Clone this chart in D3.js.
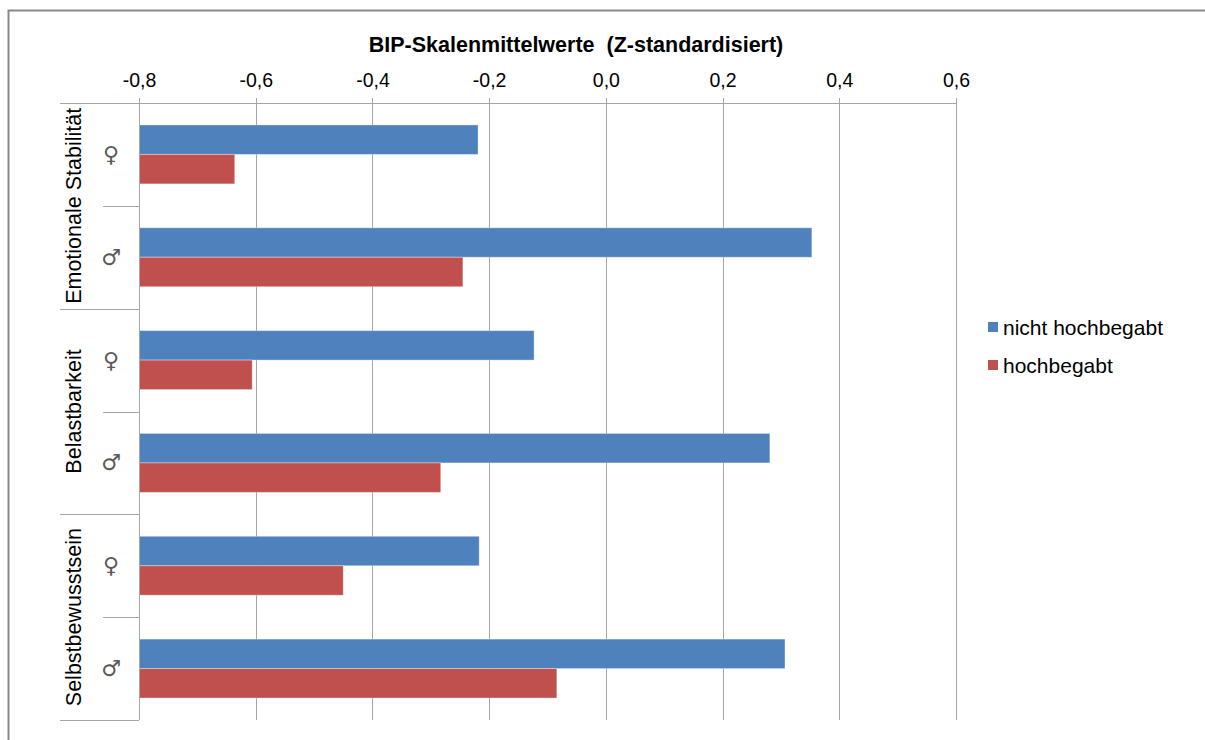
<!DOCTYPE html>
<html>
<head>
<meta charset="utf-8">
<script src="https://cdn.jsdelivr.net/npm/d3@7"></script>
<style>
    body { margin: 0; background: #fff; }
    svg text { font-family: "Liberation Sans", Arial, sans-serif; fill: #000; }
</style>
</head>
<body>
<div id="chart"></div>
<script>
    // data
    let scales = ["Emotionale Stabilität", "Belastbarkeit", "Selbstbewusstsein"];
    let sexes = ["♀", "♂"];
    let series = ["nicht hochbegabt", "hochbegabt"];
    let nichtHochbegabt = [-0.219, 0.353, -0.123, 0.281, -0.217, 0.307];
    let hochbegabt = [-0.636, -0.245, -0.606, -0.283, -0.450, -0.084];
    let xTicks = [-0.8, -0.6, -0.4, -0.2, 0.0, 0.2, 0.4, 0.6];
    let colors = ["#4f81bd", "#c0504d"];

    let W = 1205, H = 740;
    let gridColor = "#a6a6a6";

    let rows = [];
    scales.forEach((s, i) => sexes.forEach((g, j) => {
        rows.push({ key: s + "|" + g, scale: s, sex: g, values: [nichtHochbegabt[i * 2 + j], hochbegabt[i * 2 + j]] });
    }));

    let svg = d3.select("#chart")
        .append("svg")
        .attr("width", W)
        .attr("height", H);

    // chart border
    svg.append("rect")
        .attr("x", 8.5).attr("y", 10.5)
        .attr("width", W).attr("height", H)
        .attr("fill", "none")
        .attr("stroke", "#898989")
        .attr("stroke-width", 2);

    let x = d3.scaleLinear()
        .domain([-0.8, 0.6])
        .range([139, 956]);

    let y = d3.scaleBand()
        .domain(rows.map(d => d.key))
        .range([103, 720])
        .padding(0);

    let ySub = d3.scaleBand()
        .domain(series)
        .range([0, y.bandwidth()])
        .paddingInner(0)
        .paddingOuter(0.745);

    // vertical grid
    svg.append("g")
        .selectAll("line")
        .data(xTicks)
        .join("line")
        .attr("x1", d => Math.round(x(d)) + 0.5)
        .attr("x2", d => Math.round(x(d)) + 0.5)
        .attr("y1", 98)
        .attr("y2", 720)
        .attr("stroke", gridColor);

    // top axis labels
    let xAxis = svg.append("g")
        .attr("transform", "translate(0,103)")
        .call(d3.axisTop(x)
            .tickValues(xTicks)
            .tickSize(0)
            .tickPadding(16)
            .tickFormat(d => d3.format(".1f")(d).replace(".", ",").replace("−", "-")));
    xAxis.select(".domain").remove();
    xAxis.selectAll("text")
        .style("font-size", "19.5px");

    // top axis line
    svg.append("line")
        .attr("x1", 60).attr("x2", 956)
        .attr("y1", 103.5).attr("y2", 103.5)
        .attr("stroke", gridColor);

    // bars
    let groups = svg.append("g")
        .selectAll("g")
        .data(rows)
        .join("g")
        .attr("transform", d => `translate(0,${y(d.key)})`);

    groups.selectAll("rect")
        .data(d => d.values.map((v, i) => ({ name: series[i], value: v, i: i })))
        .join("rect")
        .attr("x", x(-0.8))
        .attr("y", d => ySub(d.name))
        .attr("width", d => x(d.value) - x(-0.8))
        .attr("height", ySub.bandwidth())
        .attr("fill", d => colors[d.i])
        .attr("stroke", "rgba(255,255,255,0.35)")
        .attr("stroke-width", 1);

    // left axis line
    svg.append("line")
        .attr("x1", 139.5).attr("x2", 139.5)
        .attr("y1", 98).attr("y2", 720)
        .attr("stroke", gridColor);

    // category separators
    let bounds = d3.range(rows.length + 1).map(i => 103 + i * y.step());
    svg.append("g")
        .selectAll("line")
        .data(bounds)
        .join("line")
        .attr("x1", (d, i) => i % 2 === 0 ? 60 : 103)
        .attr("x2", 139)
        .attr("y1", d => Math.round(d) + 0.5)
        .attr("y2", d => Math.round(d) + 0.5)
        .attr("stroke", gridColor);

    // inner labels (sex)
    svg.append("g")
        .selectAll("text")
        .data(rows)
        .join("text")
        .attr("x", 111)
        .attr("y", d => y(d.key) + y.bandwidth() / 2)
        .attr("text-anchor", "middle")
        .attr("dominant-baseline", "central")
        .style("font-family", "'DejaVu Sans', sans-serif")
        .style("font-size", "22px")
        .style("fill", "#5a5a5a")
        .text(d => d.sex);

    // outer labels (scales)
    svg.append("g")
        .selectAll("text")
        .data(scales)
        .join("text")
        .attr("transform", (d, i) => `translate(74,${103 + (i * 2 + 1) * y.step()}) rotate(-90)`)
        .attr("text-anchor", "middle")
        .attr("dominant-baseline", "central")
        .style("font-size", "21.5px")
        .text(d => d);

    // title
    svg.append("text")
        .attr("x", 576)
        .attr("y", 52)
        .attr("text-anchor", "middle")
        .style("font-size", "21.5px")
        .style("font-weight", "bold")
        .attr("xml:space", "preserve")
        .text("BIP-Skalenmittelwerte  (Z-standardisiert)");

    // legend
    let legend = svg.append("g")
        .attr("transform", "translate(988,320)");

    let items = legend.selectAll("g")
        .data(series)
        .join("g")
        .attr("transform", (d, i) => `translate(0,${i * 38})`);

    items.append("rect")
        .attr("width", 10)
        .attr("height", 10)
        .attr("y", 2)
        .attr("fill", (d, i) => colors[i]);

    items.append("text")
        .attr("x", 15)
        .attr("y", 7)
        .attr("dominant-baseline", "central")
        .style("font-size", "21px")
        .text(d => d);
</script>
</body>
</html>
